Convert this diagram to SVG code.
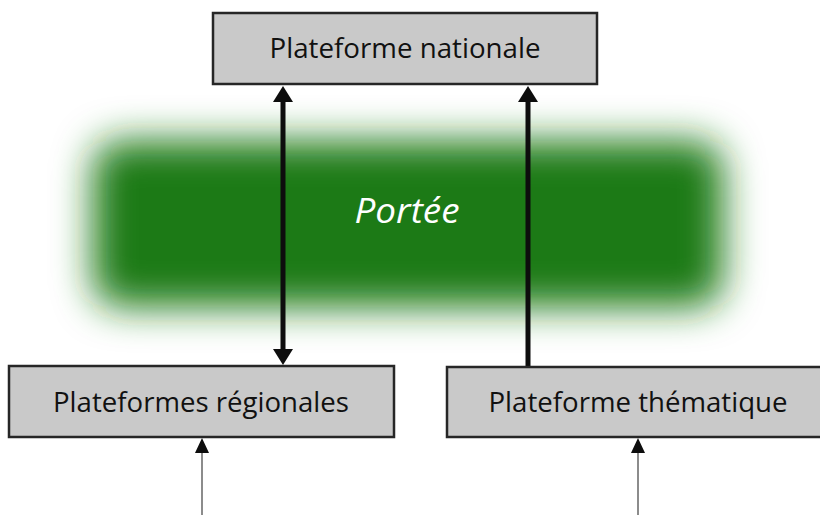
<svg xmlns="http://www.w3.org/2000/svg" width="820" height="515" viewBox="0 0 820 515">
<defs>
<filter id="blur" x="-25%" y="-60%" width="150%" height="220%"><feGaussianBlur stdDeviation="19"/></filter>
<style>
.box{fill:#c9c9c9;stroke:#262626;stroke-width:2.5}
.lbl{font-family:"Open Sans","Liberation Sans",sans-serif;font-size:28px;fill:#111;text-anchor:middle}
.thick{stroke:#0d0d0d;stroke-width:5;fill:none}
.thin{stroke:#666;stroke-width:1.5;fill:none}
.head{fill:#0d0d0d}
</style>
</defs>
<rect x="0" y="0" width="820" height="515" fill="#fff"/>
<g id="portee">
<rect x="93" y="141" width="630" height="166" rx="28" fill="#1f7a19" filter="url(#blur)"/>
<text x="407" y="223" font-family="'Open Sans','Liberation Sans',sans-serif" font-size="34" font-style="italic" fill="#fff" text-anchor="middle" textLength="105" lengthAdjust="spacingAndGlyphs">Portée</text>
</g>
<g id="connectors">
<line class="thick" x1="283" y1="100" x2="283" y2="350"/>
<polygon class="head" points="283,86 273,102 293,102"/>
<polygon class="head" points="283,365 273,349 293,349"/>
<line class="thick" x1="528" y1="100" x2="528" y2="367"/>
<polygon class="head" points="528,86 518,102 538,102"/>
<line class="thin" x1="202" y1="515" x2="202" y2="450"/>
<polygon class="head" points="202,438 195,453 209,453"/>
<line class="thin" x1="638" y1="515" x2="638" y2="450"/>
<polygon class="head" points="638,438 631,453 645,453"/>
</g>
<g id="nationale">
<rect class="box" x="213" y="13" width="384" height="71"/>
<text class="lbl" x="405" y="58" textLength="271" lengthAdjust="spacingAndGlyphs">Plateforme nationale</text>
</g>
<g id="regionales">
<rect class="box" x="9" y="366" width="385" height="71"/>
<text class="lbl" x="201" y="412" textLength="296" lengthAdjust="spacingAndGlyphs">Plateformes régionales</text>
</g>
<g id="thematique">
<rect class="box" x="447" y="367" width="380" height="70"/>
<text class="lbl" x="638" y="412" textLength="299" lengthAdjust="spacingAndGlyphs">Plateforme thématique</text>
</g>
</svg>
